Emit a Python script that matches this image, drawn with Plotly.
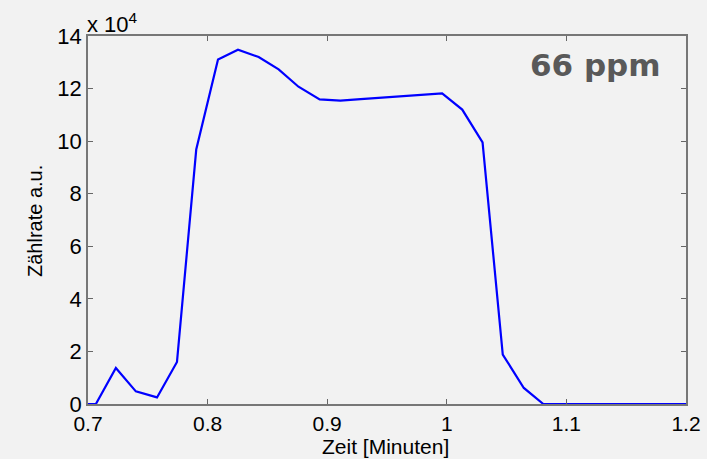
import plotly.graph_objects as go

zeit = [0.69, 0.7066, 0.7233, 0.740, 0.7577, 0.7744, 0.7905, 0.8087, 0.8254, 0.8427,
        0.8594, 0.876, 0.8937, 0.911, 0.928, 0.945, 0.962, 0.979, 0.9961, 1.0129,
        1.0299, 1.0468, 1.0644, 1.0807, 1.10, 1.15, 1.20, 1.21]
zaehlrate = [0, 0, 13700, 4800, 2500, 16000, 96800, 131100, 134800, 132000,
             127300, 120700, 115900, 115400, 116000, 116600, 117200, 117800, 118200, 112000,
             99500, 18800, 6100, 0, 0, 0, 0, 0]

x_ticks = [0.7, 0.8, 0.9, 1.0, 1.1, 1.2]
x_ticklabels = ["0.7", "0.8", "0.9", "1", "1.1", "1.2"]
y_ticks = [0, 20000, 40000, 60000, 80000, 100000, 120000, 140000]
y_ticklabels = ["0", "2", "4", "6", "8", "10", "12", "14"]

bg = "#f2f2f2"
font = "Liberation Sans, Arial, sans-serif"

fig = go.Figure()
fig.add_trace(go.Scatter(x=zeit, y=zaehlrate, mode="lines",
                         line=dict(color="#0000ff", width=2.2), showlegend=False))

fig.update_layout(
    width=707, height=459,
    paper_bgcolor=bg, plot_bgcolor=bg,
    margin=dict(l=88, r=21, t=36, b=55, autoexpand=False),
    font=dict(family=font, color="#000000"),
)
fig.update_xaxes(
    range=[0.7, 1.2], tickvals=x_ticks, ticktext=x_ticklabels,
    ticks="inside", ticklen=5, tickcolor="#666666", tickwidth=1,
    showline=True, linecolor="#777777", linewidth=1.5, mirror="ticks",
    showgrid=False, zeroline=False, automargin=False,
    tickfont=dict(size=21, family=font),
)
fig.update_yaxes(
    range=[0, 140000], tickvals=y_ticks, ticktext=y_ticklabels,
    ticks="inside", ticklen=5, tickcolor="#666666", tickwidth=1,
    showline=True, linecolor="#777777", linewidth=1.5, mirror="ticks",
    showgrid=False, zeroline=False, automargin=False,
    tickfont=dict(size=22, family=font),
)
# axis titles
fig.add_annotation(x=0.5, y=0, xref="paper", yref="paper", xanchor="center", yanchor="middle",
                   text="Zeit [Minuten]", showarrow=False, yshift=-42, xshift=-2,
                   font=dict(size=21, family=font, color="#000000"))
fig.add_annotation(x=0, y=0.5, xref="paper", yref="paper", xanchor="center", yanchor="middle",
                   text="Zählrate a.u.", showarrow=False, textangle=-90, xshift=-53, yshift=-1,
                   font=dict(size=20, family=font, color="#000000"))
fig.add_annotation(x=0, y=1, xref="paper", yref="paper", xanchor="left", yanchor="bottom",
                   text="x 10<sup>4</sup>", showarrow=False, xshift=-3, yshift=-3,
                   font=dict(size=22, family=font, color="#000000"))
fig.add_annotation(x=1.124, y=0.92, xref="x", yref="paper", xanchor="center", yanchor="middle",
                   text="<b>66 ppm</b>", showarrow=False,
                   font=dict(size=31, family="DejaVu Sans, Verdana, sans-serif", color="#595959"))

fig.write_html("out.html", post_script="document.body.style.margin='0';",
               config={"displayModeBar": False})
